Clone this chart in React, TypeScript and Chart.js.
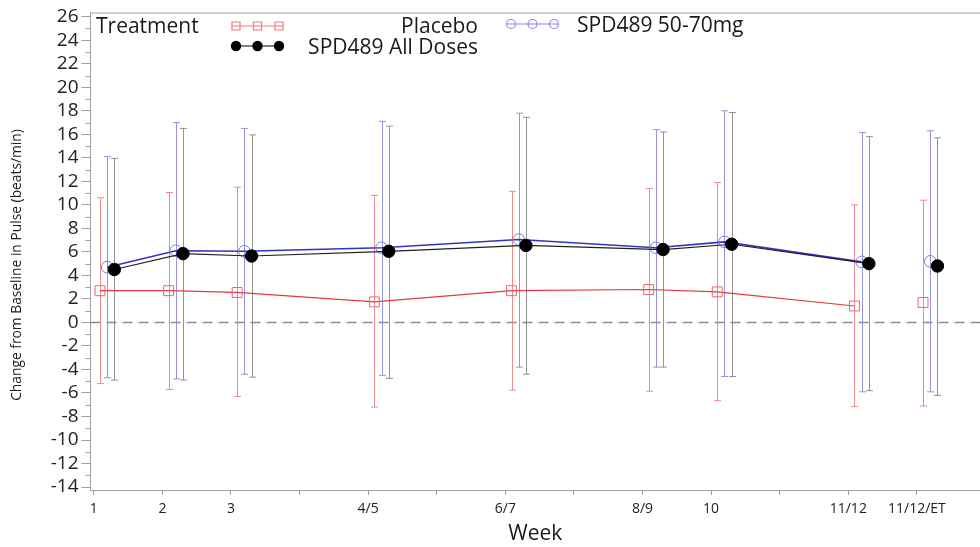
import React, { useEffect, useRef } from "react";
import { Chart, registerables } from "chart.js";

Chart.register(...registerables);

// ---------- data ----------
const weeks = [1, 2, 3, 5, 7, 9, 10, 12];
const etWeek = 13;
const xTickValues = [1, 2, 3, 4, 5, 6, 7, 8, 9, 10, 11, 12, 13];
const xTickLabels = ["1", "2", "3", "", "4/5", "", "6/7", "", "8/9", "10", "", "11/12", "11/12/ET"];
const yTickValues = [-14, -12, -10, -8, -6, -4, -2, 0, 2, 4, 6, 8, 10, 12, 14, 16, 18, 20, 22, 24, 26];

const placeboMean = [2.7, 2.7, 2.55, 1.75, 2.7, 2.8, 2.6, 1.4];
const placeboLow = [-5.2, -5.7, -6.3, -7.2, -5.75, -5.85, -6.65, -7.15];
const placeboHigh = [10.6, 11.05, 11.5, 10.8, 11.15, 11.4, 11.9, 10.0];
const placeboEt = [1.7, -7.1, 10.4]; // mean, low, high

const dose5070Mean = [4.7, 6.1, 6.05, 6.35, 7.05, 6.35, 6.85, 5.15];
const dose5070Low = [-4.7, -4.8, -4.4, -4.5, -3.8, -3.8, -4.6, -5.9];
const dose5070High = [14.1, 17.0, 16.5, 17.1, 17.8, 16.4, 18.0, 16.15];
const dose5070Et = [5.2, -5.9, 16.3];

const allDosesMean = [4.5, 5.85, 5.65, 6.05, 6.55, 6.2, 6.65, 5.0];
const allDosesLow = [-4.9, -4.9, -4.65, -4.75, -4.4, -3.8, -4.6, -5.8];
const allDosesHigh = [13.95, 16.5, 15.95, 16.7, 17.45, 16.2, 17.85, 15.8];
const allDosesEt = [4.8, -6.2, 15.7];

const seriesNames = ["Placebo", "SPD489 50-70mg", "SPD489 All Doses"];
const legendTitle = "Treatment";
const xTitle = "Week";
const yTitle = "Change from Baseline in Pulse (beats/min)";

// ---------- styles ----------
const FONT = "'Open Sans', 'Liberation Sans', sans-serif";
const AXIS_GREY = "#a0a0a0";

const series = [
  {
    name: seriesNames[0], offset: 0.09, mean: placeboMean, low: placeboLow, high: placeboHigh, et: placeboEt,
    line: "#e8383d", barColor: "rgba(236,120,125,0.85)", markColor: "#e46a70", style: "rect", radius: 7, fill: "rgba(255,255,255,0)", lineWidth: 1.2, order: 2,
  },
  {
    name: seriesNames[1], offset: 0.195, mean: dose5070Mean, low: dose5070Low, high: dose5070High, et: dose5070Et,
    line: "#3434c4", barColor: "rgba(130,130,220,0.85)", markColor: "#7a7ae0", style: "circle", radius: 5.8, fill: "rgba(255,255,255,0)", lineWidth: 1.6, order: 1,
  },
  {
    name: seriesNames[2], offset: 0.3, mean: allDosesMean, low: allDosesLow, high: allDosesHigh, et: allDosesEt,
    line: "#202020", barColor: "rgba(120,120,120,0.8)", markColor: "#000000", style: "circle", radius: 6.2, fill: "#000000", lineWidth: 1.2, order: 0,
  },
];

const decorPlugin = {
  id: "decor",
  beforeDatasetsDraw(chart: any) {
    const { ctx, chartArea, scales } = chart;
    const xs = scales.x;
    const ys = scales.y;
    ctx.save();
    // top frame line
    ctx.strokeStyle = AXIS_GREY;
    ctx.lineWidth = 1;
    ctx.beginPath();
    ctx.moveTo(chartArea.left, chartArea.top + 0.5);
    ctx.lineTo(chartArea.right, chartArea.top + 0.5);
    ctx.stroke();
    // minor y ticks
    for (let v = -13; v <= 25; v += 2) {
      const y = Math.round(ys.getPixelForValue(v)) + 0.5;
      ctx.beginPath();
      ctx.moveTo(chartArea.left - 5, y);
      ctx.lineTo(chartArea.left, y);
      ctx.stroke();
    }
    // zero reference line
    const y0 = ys.getPixelForValue(0);
    ctx.strokeStyle = "#8c8c8c";
    ctx.lineWidth = 1.6;
    ctx.setLineDash([10, 6]);
    ctx.beginPath();
    ctx.moveTo(chartArea.left, y0);
    ctx.lineTo(chartArea.right, y0);
    ctx.stroke();
    ctx.setLineDash([]);
    // error bars
    const cap = 3.5;
    series.forEach((s) => {
      ctx.strokeStyle = s.barColor;
      ctx.lineWidth = 1;
      const items = weeks.map((w, i) => [w, s.low[i], s.high[i]]);
      items.push([etWeek, s.et[1], s.et[2]]);
      items.forEach(([w, lo, hi]) => {
        const x = Math.round(xs.getPixelForValue(w + s.offset)) + 0.5;
        const yl = ys.getPixelForValue(lo);
        const yh = ys.getPixelForValue(hi);
        ctx.beginPath();
        ctx.moveTo(x, yl);
        ctx.lineTo(x, yh);
        ctx.moveTo(x - cap, yl);
        ctx.lineTo(x + cap, yl);
        ctx.moveTo(x - cap, yh);
        ctx.lineTo(x + cap, yh);
        ctx.stroke();
      });
    });
    ctx.restore();
  },
  afterDraw(chart: any) {
    const { ctx, chartArea } = chart;
    ctx.save();
    ctx.fillStyle = "#1a1a1a";
    ctx.font = `21px ${FONT}`;
    ctx.textAlign = "center";
    ctx.textBaseline = "middle";
    ctx.fillText(xTitle, (chartArea.left + chartArea.right) / 2, 534);
    ctx.save();
    ctx.translate(17, 265);
    ctx.rotate(-Math.PI / 2);
    ctx.font = `13.8px ${FONT}`;
    ctx.fillText(yTitle, 0, 0);
    ctx.restore();

    // legend
    ctx.font = `21px ${FONT}`;
    ctx.textBaseline = "middle";
    ctx.textAlign = "left";
    ctx.fillText(legendTitle, 96, 27);
    ctx.textAlign = "right";
    ctx.fillText(seriesNames[0], 478, 27);
    ctx.fillText(seriesNames[2], 478, 48);
    ctx.textAlign = "left";
    ctx.fillText(seriesNames[1], 577, 26);

    const sample = (x0: number, x1: number, y: number, s: any, size: number) => {
      ctx.strokeStyle = s.style === "rect" ? "#ee7a80" : s.name === seriesNames[1] ? "#8a8ae0" : "#000";
      ctx.lineWidth = 1.2;
      ctx.beginPath();
      ctx.moveTo(x0, y);
      ctx.lineTo(x1, y);
      ctx.stroke();
      const xs = [x0 + 4, (x0 + x1) / 2, x1 - 4];
      xs.forEach((x) => {
        ctx.beginPath();
        if (s.style === "rect") {
          ctx.rect(x - size, y - size, size * 2, size * 2);
          ctx.stroke();
        } else {
          ctx.arc(x, y, size, 0, Math.PI * 2);
          if (s.fill === "#000000") {
            ctx.fillStyle = "#000";
            ctx.fill();
          } else {
            ctx.stroke();
          }
        }
      });
    };
    sample(232, 283, 26, series[0], 4);
    sample(507, 558, 24, series[1], 4.5);
    sample(232, 283, 46, series[2], 5.2);
    ctx.restore();
  },
};

export default function App() {
  const canvasRef = useRef<HTMLCanvasElement | null>(null);

  useEffect(() => {
    if (!canvasRef.current) return;
    const datasets: any[] = [];
    series.forEach((s) => {
      datasets.push({
        label: s.name,
        data: weeks.map((w, i) => ({ x: w + s.offset, y: s.mean[i] })),
        borderColor: s.line,
        borderWidth: s.lineWidth,
        pointStyle: s.style,
        pointRadius: s.radius,
        pointBorderColor: s.markColor,
        pointBackgroundColor: s.fill,
        pointBorderWidth: 1,
        tension: 0,
        order: s.order,
      });
      datasets.push({
        label: s.name + " ET",
        data: [{ x: etWeek + s.offset, y: s.et[0] }],
        showLine: false,
        borderColor: s.line,
        pointStyle: s.style,
        pointRadius: s.radius,
        pointBorderColor: s.markColor,
        pointBackgroundColor: s.fill,
        pointBorderWidth: 1,
        order: s.order,
      });
    });

    const chart = new Chart(canvasRef.current, {
      type: "line",
      data: { datasets },
      options: {
        animation: false,
        responsive: false,
        events: [],
        layout: { autoPadding: false, padding: { left: 0, right: 0, top: 12.5, bottom: 0 } },
        plugins: { legend: { display: false }, tooltip: { enabled: false } },
        scales: {
          x: {
            type: "linear",
            min: 0.952,
            max: 13.92,
            afterFit: (scale: any) => {
              scale.height = 57;
              scale.paddingLeft = 0;
              scale.paddingRight = 0;
            },
            afterBuildTicks: (scale: any) => { scale.ticks = xTickValues.map((v) => ({ value: v })); },
            ticks: {
              font: { family: FONT, size: 14 },
              color: "#222",
              padding: 6,
              maxRotation: 0,
              autoSkip: false,
              callback: (v: any) => {
                const i = xTickValues.indexOf(Number(v));
                return i >= 0 ? xTickLabels[i] : "";
              },
            },
            grid: { drawOnChartArea: false, drawTicks: true, tickLength: 5, color: AXIS_GREY },
            border: { display: true, color: AXIS_GREY },
          },
          y: {
            type: "linear",
            min: -14.25,
            max: 26.36,
            afterFit: (scale: any) => {
              scale.width = 90.5;
              scale.paddingTop = 0;
              scale.paddingBottom = 0;
            },
            afterBuildTicks: (scale: any) => { scale.ticks = yTickValues.map((v) => ({ value: v })); },
            ticks: {
              font: { family: FONT, size: 19 },
              color: "#222",
              padding: 3,
              autoSkip: false,
              callback: (v: any) => String(v),
            },
            grid: { drawOnChartArea: false, drawTicks: true, tickLength: 9, color: AXIS_GREY },
            border: { display: true, color: AXIS_GREY },
          },
        },
      },
      plugins: [decorPlugin],
    });
    return () => chart.destroy();
  }, []);

  return (
    <div style={{ position: "absolute", left: 0, top: 0, width: 980, height: 547, background: "#fff" }}>
      <canvas ref={canvasRef} width={980} height={547} />
    </div>
  );
}
